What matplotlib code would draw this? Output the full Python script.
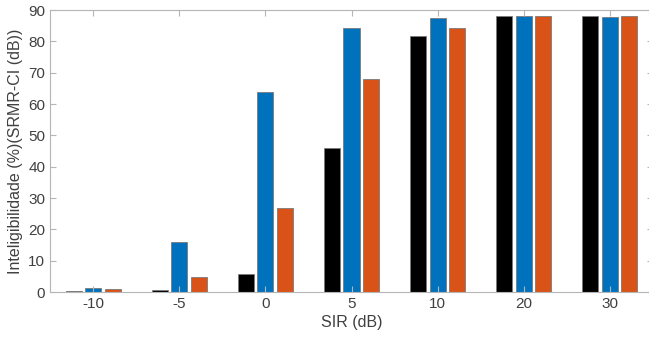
import numpy as np
import matplotlib.pyplot as plt

plt.rcParams['font.family'] = ['Liberation Sans', 'DejaVu Sans']

# SIR levels (dB) and intelligibility values per method
sir_labels = ['-10', '-5', '0', '5', '10', '20', '30']
serie_preta = [0.3, 0.7, 5.8, 46.0, 81.7, 88.0, 88.2]
serie_azul = [1.3, 16.0, 63.8, 84.3, 87.5, 88.1, 87.8]
serie_laranja = [0.9, 4.8, 26.8, 68.0, 84.3, 88.0, 88.2]

cores = ['#000000', '#0072BD', '#D95319']
series = [serie_preta, serie_azul, serie_laranja]

fig = plt.figure(figsize=(6.49, 3.39), dpi=100)
ax = fig.add_axes([50 / 649, 47 / 339, 603 / 649, 282 / 339])

x = np.arange(1, len(sir_labels) + 1)
offset = 0.226
width = 0.186
for i, (vals, cor) in enumerate(zip(series, cores)):
    ax.bar(x + (i - 1) * offset, vals, width, color=cor,
           edgecolor='#7a7a7a', linewidth=0.6)

ax.set_xlim(0.5, 7.5)
ax.set_ylim(0, 90)
ax.set_xticks(x)
ax.set_xticklabels(sir_labels)
ax.set_yticks(np.arange(0, 91, 10))

grey = '#b5b5b5'
for s in ax.spines.values():
    s.set_color(grey)
    s.set_linewidth(0.8)
ax.tick_params(direction='in', top=True, right=True, color=grey,
               labelcolor='#404040', labelsize=11, length=4, width=0.8)

ax.set_xlabel('SIR (dB)', fontsize=11.5, color='#404040', labelpad=3)
ax.set_ylabel('Inteligibilidade (%)(SRMR-CI (dB))', fontsize=11.5,
              color='#404040', labelpad=4)

fig.savefig('out.png', dpi=100)
